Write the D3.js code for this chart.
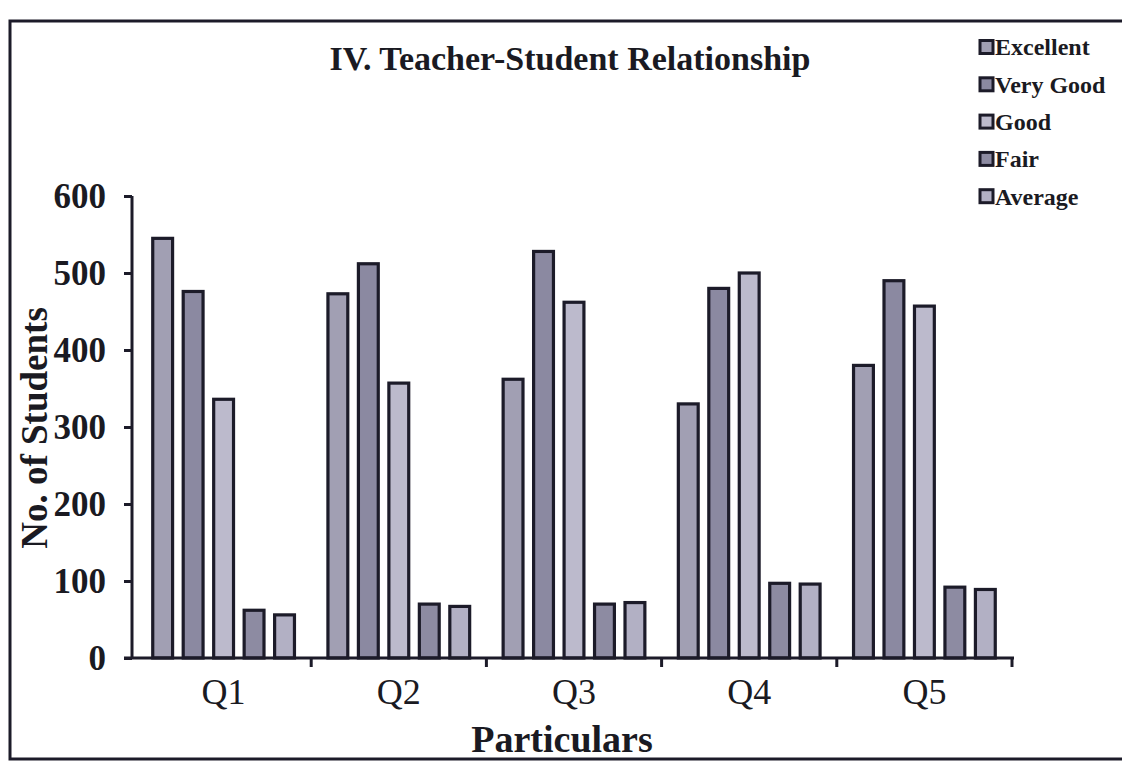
<!DOCTYPE html>
<html>
<head>
<meta charset="utf-8">
<script src="https://cdn.jsdelivr.net/npm/d3@7/dist/d3.min.js"></script>
<style>
  html, body { margin: 0; padding: 0; background: #ffffff; }
  svg { display: block; }
  text { font-family: "Liberation Serif", "Times New Roman", serif; fill: #1a1a22; }
</style>
</head>
<body>
<svg id="chart" width="1122" height="766"></svg>
<script>
const categories = ["Q1", "Q2", "Q3", "Q4", "Q5"];
const seriesNames = ["Excellent", "Very Good", "Good", "Fair", "Average"];
const excellent = [545, 473, 362, 330, 380];
const veryGood  = [476, 512, 528, 480, 490];
const good      = [336, 357, 462, 500, 457];
const fair      = [62, 70, 70, 97, 92];
const average   = [56, 67, 72, 96, 89];
const yTicks = [0, 100, 200, 300, 400, 500, 600];
const colors = ["#a19fb3", "#8b89a1", "#bcbacc", "#8d8ba2", "#b2b0c4"];

const seriesValues = [excellent, veryGood, good, fair, average];
const data = categories.map((c, i) => ({
  cat: c,
  vals: seriesNames.map((s, j) => ({ series: s, value: seriesValues[j][i], idx: j }))
}));

const svg = d3.select("#chart");
const ink = "#1c1b29";

// frame
svg.append("rect").attr("x", 10).attr("y", 21).attr("width", 1140).attr("height", 738)
  .attr("fill", "none").attr("stroke", ink).attr("stroke-width", 3);

const x0 = d3.scaleBand().domain(categories).range([136, 1012]).paddingInner(0).paddingOuter(0);
const x1 = d3.scaleBand().domain(seriesNames).range([0, x0.bandwidth()]).paddingInner(0.25).paddingOuter(0.5);
const y = d3.scaleLinear().domain([0, 600]).range([658, 196]);

// bars
const g = svg.append("g");
g.selectAll("g.cat").data(data).join("g")
  .attr("class", "cat")
  .attr("transform", d => `translate(${x0(d.cat)},0)`)
  .selectAll("rect").data(d => d.vals).join("rect")
  .attr("x", d => x1(d.series) + 1.5)
  .attr("width", x1.bandwidth() - 3)
  .attr("y", d => y(d.value))
  .attr("height", d => y(0) - y(d.value))
  .attr("fill", d => colors[d.idx])
  .attr("stroke", ink)
  .attr("stroke-width", 3.2);

// y axis
const yAxis = d3.axisLeft(y).tickValues(yTicks).tickSize(8).tickPadding(18).tickFormat(d3.format("d"));
const yg = svg.append("g").attr("transform", "translate(132,0)").call(yAxis);
yg.select(".domain").attr("stroke", ink).attr("stroke-width", 3).attr("d", `M0,${y(600)}V${y(0)}`);
yg.selectAll(".tick line").attr("stroke", ink).attr("stroke-width", 3);
yg.selectAll(".tick text").attr("font-size", 35).attr("font-weight", "bold")
  .attr("font-family", "Liberation Serif, serif").attr("fill", "#1a1a22").attr("dy", "0.34em");

// x axis
const xAxis = d3.axisBottom(x0).tickSize(0).tickPadding(20);
const xg = svg.append("g").attr("transform", `translate(0,${y(0)})`).call(xAxis);
xg.select(".domain").attr("stroke", ink).attr("stroke-width", 3).attr("d", `M124,0H1014`);
xg.selectAll(".tick text").attr("font-size", 36).attr("font-family", "Liberation Serif, serif")
  .attr("fill", "#1a1a22").attr("dy", "0.72em");
// category separator ticks
xg.selectAll("line.sep").data(categories).join("line")
  .attr("class", "sep")
  .attr("x1", d => x0(d) + x0.bandwidth()).attr("x2", d => x0(d) + x0.bandwidth())
  .attr("y1", 0).attr("y2", 9)
  .attr("stroke", ink).attr("stroke-width", 3);

// title
svg.append("text").attr("x", 570).attr("y", 70).attr("text-anchor", "middle")
  .attr("font-size", 34).attr("font-weight", "bold").text("IV. Teacher-Student Relationship");

// axis titles
svg.append("text").attr("x", 562).attr("y", 752).attr("text-anchor", "middle")
  .attr("font-size", 38).attr("font-weight", "bold").text("Particulars");
svg.append("text").attr("transform", "translate(47,428) rotate(-90)").attr("text-anchor", "middle")
  .attr("font-size", 37).attr("font-weight", "bold").text("No. of Students");

// legend
const lg = svg.append("g").attr("transform", "translate(980,47)");
const items = lg.selectAll("g").data(seriesNames).join("g")
  .attr("transform", (d, i) => `translate(0,${i * 37.3})`);
items.append("rect").attr("x", 0).attr("y", -6.5).attr("width", 13).attr("height", 13)
  .attr("fill", (d, i) => colors[i]).attr("stroke", ink).attr("stroke-width", 3);
items.append("text").attr("x", 15).attr("y", 0).attr("dy", "0.35em")
  .attr("font-size", 24).attr("font-weight", "bold").text(d => d);
</script>
</body>
</html>
